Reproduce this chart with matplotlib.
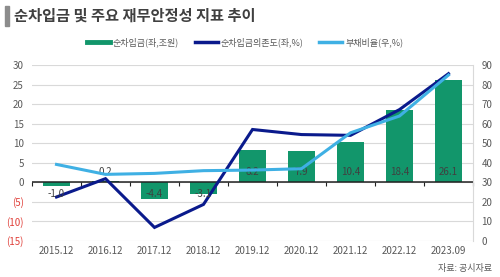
import matplotlib
matplotlib.use("Agg")
import matplotlib.pyplot as plt
from matplotlib.lines import Line2D
from matplotlib.patches import Rectangle
import numpy as np

plt.rcParams['font.family'] = ['Noto Sans CJK KR', 'DejaVu Sans']

periods = ['2015.12', '2016.12', '2017.12', '2018.12', '2019.12',
           '2020.12', '2021.12', '2022.12', '2023.09']
net_debt = [-1.0, 0.2, -4.4, -3.1, 8.2, 7.9, 10.4, 18.4, 26.1]
dependency = [-3.8, 0.9, -11.6, -5.7, 13.5, 12.2, 12.0, 18.6, 27.8]
debt_ratio = [39.1, 34.0, 34.5, 35.9, 36.2, 36.9, 55.3, 63.9, 84.9]
left_ticks = list(range(-15, 31, 5))
right_ticks = list(range(0, 91, 10))

green = '#12966b'
navy = '#0a1a8c'
light = '#3fb0e4'
grey_txt = '#595959'
red_txt = '#e0403a'

fig = plt.figure(figsize=(5, 2.77), dpi=100)
ax = fig.add_axes([0.064, 0.131, 0.882, 0.634])
x = np.arange(len(periods))

for t in left_ticks:
    ax.axhline(t, color='#d9d9d9', lw=0.8, zorder=0)
ax.bar(x, net_debt, width=0.56, color=green, zorder=2)
ax.plot(x, dependency, color=navy, lw=2.2, zorder=3, solid_joinstyle='miter')
ax.axhline(0, color='#222222', lw=1.1, zorder=2.5)

for xi, v in zip(x, net_debt):
    ax.text(xi, 2.7 if v >= 0 else -3.0, f'{v:.1f}', ha='center', va='center',
            fontsize=7, color='#404040', zorder=4)

ax.set_xlim(-0.5, len(periods) - 0.5)
ax.set_ylim(-15, 30)
ax.set_yticks(left_ticks)
ax.set_yticklabels([f'({-t})' if t < 0 else str(t) for t in left_ticks])
for lab, t in zip(ax.get_yticklabels(), left_ticks):
    lab.set_color(red_txt if t < 0 else grey_txt)
ax.set_xticks(x)
ax.set_xticklabels(periods)
ax.tick_params(axis='y', length=0, pad=6, labelsize=7)
ax.tick_params(axis='x', length=0, pad=4, labelsize=7, labelcolor=grey_txt)
for s in ax.spines.values():
    s.set_visible(False)

# tick marks along the zero line
sec = ax.secondary_xaxis(15 / 45)
sec.set_xticks(np.arange(len(periods) + 1) - 0.5)
sec.tick_params(axis='x', direction='out', length=3, width=0.8, color='#222222',
                labelbottom=False, labeltop=False)
for s in sec.spines.values():
    s.set_visible(False)

ax2 = ax.twinx()
ax2.plot(x, debt_ratio, color=light, lw=2.2, zorder=3)
ax2.set_ylim(0, 90)
ax2.set_yticks(right_ticks)
ax2.tick_params(axis='y', length=0, pad=6, labelsize=7, labelcolor=grey_txt)
for k, s in ax2.spines.items():
    s.set_visible(k == 'right')
ax2.spines['right'].set_color('#d9d9d9')

# title
fig.patches.append(Rectangle((0.010, 0.905), 0.008, 0.075, transform=fig.transFigure,
                             color='#8c8c8c'))
fig.text(0.028, 0.943, '순차입금 및 주요 재무안정성 지표 추이', fontsize=11,
         fontweight='bold', color='#404040', va='center', ha='left')

handles = [Line2D([], [], color=green, lw=3.5),
           Line2D([], [], color=navy, lw=2.5),
           Line2D([], [], color=light, lw=2.5)]
labels = ['순차입금(좌,조원)', '순차입금의존도(좌,%)', '부채비율(우,%)']
fig.legend(handles, labels, loc='center', bbox_to_anchor=(0.49, 0.848), ncol=3,
           frameon=False, fontsize=6.5, handlelength=2.6, handletextpad=0.3,
           columnspacing=1.7, labelcolor=grey_txt)

fig.text(0.984, 0.032, '자료: 공시자료', fontsize=6.5, color=grey_txt,
         ha='right', va='center')

fig.savefig('out.png', dpi=100)
